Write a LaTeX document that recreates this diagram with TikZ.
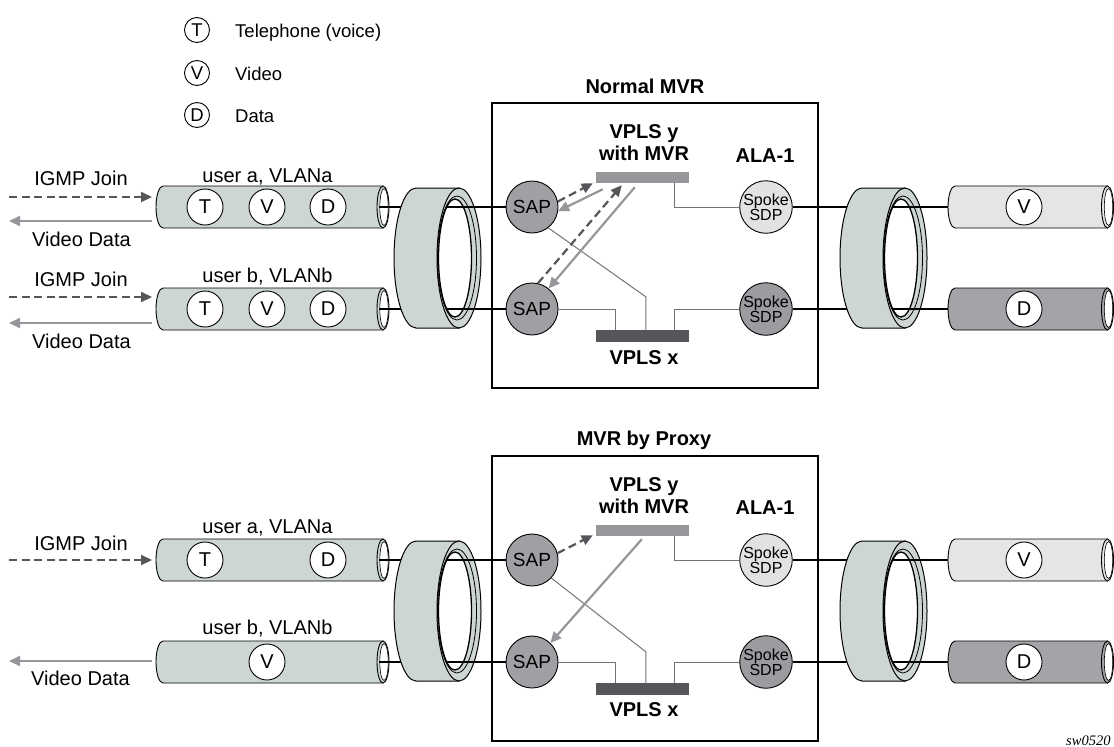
\documentclass[tikz,border=0pt]{standalone}
\usepackage{fontspec}
\setmainfont{Liberation Sans}
\newfontfamily\swfont{Liberation Serif}
\usetikzlibrary{arrows.meta,calc}
\definecolor{tubegray}{RGB}{206,213,213}
\definecolor{ringgray}{RGB}{206,213,213}
\definecolor{lighttube}{RGB}{229,229,229}
\definecolor{darktube}{RGB}{164,164,168}
\definecolor{sapgray}{RGB}{160,160,164}
\definecolor{spokelight}{RGB}{226,226,226}
\definecolor{spokedark}{RGB}{155,155,160}
\definecolor{barygray}{RGB}{150,150,155}
\definecolor{barxgray}{RGB}{85,85,90}
\definecolor{thingray}{RGB}{115,115,120}
\definecolor{dasharrc}{RGB}{85,85,90}
\definecolor{grayarrc}{RGB}{150,150,155}
\newcommand{\mytube}[4]{%
  \draw[line width=0.9pt, fill=#4] (#2,#3-21) -- (#1,#3-21) arc[start angle=270, end angle=90, x radius=7, y radius=21] -- (#2,#3+21) -- cycle;
  \draw[line width=0.9pt, fill=#4] (#2,#3) ellipse[x radius=6, y radius=21];
  \draw[line width=0.6pt, fill=white] (#2+1,#3) ellipse[x radius=4.2, y radius=18.5];
}
\newcommand{\myring}[2]{%
  \draw[line width=1pt, fill=ringgray] (#1+43,#2-70) -- (#1,#2-70) arc[start angle=270, end angle=90, x radius=22, y radius=70] -- (#1+43,#2+70) -- cycle;
  \draw[line width=1pt, fill=ringgray] (#1+43,#2) ellipse[x radius=22, y radius=70];
  \draw[line width=0.8pt, fill=ringgray] (#1+41,#2) ellipse[x radius=19.5, y radius=62];
  \draw[line width=1.3pt, fill=white] (#1+39,#2) ellipse[x radius=16.5, y radius=59];
}
\begin{document}
\begin{tikzpicture}[x=1pt,y=-1pt,
  lbl/.style={font=\fontsize{20}{22}\selectfont, inner sep=0, anchor=base},
  blbl/.style={font=\fontsize{20}{22}\selectfont\bfseries, inner sep=0, anchor=base},
  leglbl/.style={font=\fontsize{18.5}{20}\selectfont, inner sep=0, anchor=base west},
  legc/.style={circle, draw, line width=0.9pt, minimum size=25pt, inner sep=0, font=\fontsize{18.5}{20}\selectfont},
  svc/.style={circle, draw, line width=0.9pt, fill=white, minimum size=36pt, inner sep=0, font=\fontsize{20}{22}\selectfont},
  sap/.style={circle, draw, line width=0.9pt, fill=sapgray, minimum size=52pt, inner sep=0, font=\fontsize{19}{20}\selectfont},
  spoke/.style={circle, draw, line width=0.9pt, minimum size=52pt, inner sep=0, align=center, font=\fontsize{16}{15}\selectfont},
  bar/.style={rectangle, minimum width=93pt, inner sep=0},
  frame/.style={rectangle, draw, line width=1.8pt, minimum width=326pt, minimum height=285pt, inner sep=0},
  blk/.style={line width=1.8pt},
  thinc/.style={draw=thingray, line width=1pt},
  dasharr/.style={draw=dasharrc, line width=2.2pt, dash pattern=on 8pt off 4.5pt, -{Triangle[length=11pt,width=10pt,fill=dasharrc]}},
  grayarr/.style={draw=grayarrc, line width=2.2pt, -{Triangle[length=11pt,width=10pt,fill=grayarrc]}}
]
\useasboundingbox (0,0) rectangle (1114,747);

% legend
\node[legc] (lt) at (197,30) {T};
\node[legc] (lv) at (197,73) {V};
\node[legc] (ld) at (197,115) {D};
\node[leglbl] (ltt) at (235,37) {Telephone (voice)};
\node[leglbl] (lvt) at (235,80) {Video};
\node[leglbl] (ldt) at (235,122) {Data};

% frames
\node[frame] (boxa) at (655,245.5) {};
\node[frame] (boxb) at (655,598.5) {};
\node[blbl] (ta) at (645,93) {Normal MVR};
\node[blbl] (tb) at (644,445) {MVR by Proxy};

% ================= TOP =================
\node[sap] (sapa) at (532,207) {SAP};
\node[sap] (sapb) at (532,309) {SAP};
\node[spoke, fill=spokelight] (spka) at (766,207) {Spoke\\SDP};
\node[spoke, fill=spokedark] (spkb) at (766,309) {Spoke\\SDP};
\node[bar, fill=barygray, minimum height=11pt] (vya) at (642.5,177.5) {};
\node[bar, fill=barxgray, minimum height=12pt] (vxa) at (642.5,336) {};
\node[blbl] (vyat) at (644,138.5) {VPLS y};
\node[blbl] (vyat2) at (644,160) {with MVR};
\node[blbl] (vxat) at (644,364) {VPLS x};
\node[blbl] (alaa) at (765,162) {ALA-1};

% tubes
\mytube{163}{383}{207}{tubegray}
\mytube{163}{383}{309}{tubegray}
\mytube{955}{1107.5}{207}{lighttube}
\mytube{955}{1107.5}{309}{darktube}
\node[svc] (ta1) at (205,207) {T};
\node[svc] (va1) at (267,207) {V};
\node[svc] (da1) at (328,207) {D};
\node[svc] (tb1) at (205,309) {T};
\node[svc] (vb1) at (267,309) {V};
\node[svc] (db1) at (328,309) {D};
\node[svc] (rva) at (1024,207) {V};
\node[svc] (rda) at (1024,309) {D};
\node[lbl] (ua) at (267.5,182) {user a, VLANa};
\node[lbl] (ub) at (267.5,282) {user b, VLANb};

\coordinate (ea1) at (379,207);
\coordinate (ea2) at (379,309);
\coordinate (ra1) at (948,207);
\coordinate (ra2) at (948,309);
\coordinate (ia1) at (447,207);
\coordinate (ia2) at (447,309);
\coordinate (ja1) at (893,207);
\coordinate (ja2) at (893,309);
\draw[blk] (ea1) -- (sapa.west);
\draw[blk] (ea2) -- (sapb.west);
\draw[blk] (spka.east) -- (ra1);
\draw[blk] (spkb.east) -- (ra2);
\myring{416}{258}
\myring{862}{258}
\draw[blk] (ia1) -- (sapa.west);
\draw[blk] (ia2) -- (sapb.west);
\draw[blk] (ja1) -- (ra1);
\draw[blk] (ja2) -- (ra2);

% internal connectors
\draw[thinc] ($(vya.south west)+(79,0)$) |- (spka.west);
\draw[thinc] (sapb.east) -| ($(vxa.north west)+(20,0)$);
\draw[thinc] (spkb.west) -| ($(vxa.north west)+(79,0)$);
\draw[thinc] (sapa.-52) -- ($(vxa.north west)+(50,-33)$) -- ($(vxa.north west)+(50,0)$);

% arrows inside
\draw[dasharr] (sapa.12) -- ($(vya.south west)+(-3,0)$);
\draw[grayarr] ($(vya.south west)+(7,6)$) -- (sapa.-9);
\draw[dasharr] (sapb.77) -- ($(vya.south west)+(26,2)$);
\draw[grayarr] ($(vya.south west)+(39,4)$) -- (sapb.51);

% left arrows
\coordinate (la1s) at (9,197);   \coordinate (la1e) at (152,197);
\coordinate (la2s) at (152,221); \coordinate (la2e) at (9,221);
\coordinate (la3s) at (9,297);   \coordinate (la3e) at (152,297);
\coordinate (la4s) at (152,323); \coordinate (la4e) at (9,323);
\draw[dasharr] (la1s) -- (la1e);
\draw[grayarr] (la2s) -- (la2e);
\draw[dasharr] (la3s) -- (la3e);
\draw[grayarr] (la4s) -- (la4e);
\node[lbl] (ij1) at (81,185) {IGMP Join};
\node[lbl] (vd1) at (81.5,246) {Video Data};
\node[lbl] (ij2) at (81,286) {IGMP Join};
\node[lbl] (vd2) at (81.5,348) {Video Data};

% ================= BOTTOM =================
\node[sap] (sapc) at (532,560) {SAP};
\node[sap] (sapd) at (532,662) {SAP};
\node[spoke, fill=spokelight] (spkc) at (766,560) {Spoke\\SDP};
\node[spoke, fill=spokedark] (spkd) at (766,662) {Spoke\\SDP};
\node[bar, fill=barygray, minimum height=11pt] (vyb) at (642.5,530.5) {};
\node[bar, fill=barxgray, minimum height=12pt] (vxb) at (642.5,689) {};
\node[blbl] (vybt) at (644,491.5) {VPLS y};
\node[blbl] (vybt2) at (644,513) {with MVR};
\node[blbl] (vxbt) at (644,716) {VPLS x};
\node[blbl] (alab) at (765,514) {ALA-1};

\mytube{163}{383}{560}{tubegray}
\mytube{163}{383}{662}{tubegray}
\mytube{955}{1107.5}{560}{lighttube}
\mytube{955}{1107.5}{662}{darktube}
\node[svc] (tc1) at (205,560) {T};
\node[svc] (dc1) at (328,560) {D};
\node[svc] (vd1c) at (267,662) {V};
\node[svc] (rvb) at (1024,560) {V};
\node[svc] (rdb) at (1024,662) {D};
\node[lbl] (uc) at (267.5,533) {user a, VLANa};
\node[lbl] (ud) at (267.5,634) {user b, VLANb};

\coordinate (eb1) at (379,560);
\coordinate (eb2) at (379,662);
\coordinate (rb1) at (948,560);
\coordinate (rb2) at (948,662);
\coordinate (ib1) at (447,560);
\coordinate (ib2) at (447,662);
\coordinate (jb1) at (893,560);
\coordinate (jb2) at (893,662);
\draw[blk] (eb1) -- (sapc.west);
\draw[blk] (eb2) -- (sapd.west);
\draw[blk] (spkc.east) -- (rb1);
\draw[blk] (spkd.east) -- (rb2);
\myring{416}{611}
\myring{862}{611}
\draw[blk] (ib1) -- (sapc.west);
\draw[blk] (ib2) -- (sapd.west);
\draw[blk] (jb1) -- (rb1);
\draw[blk] (jb2) -- (rb2);

\draw[thinc] ($(vyb.south west)+(79,0)$) |- (spkc.west);
\draw[thinc] (sapd.east) -| ($(vxb.north west)+(20,0)$);
\draw[thinc] (spkd.west) -| ($(vxb.north west)+(79,0)$);
\draw[thinc] (sapc.-43) -- ($(vxb.north west)+(50,-31)$) -- ($(vxb.north west)+(50,0)$);

\draw[dasharr] (sapc.15) -- ($(vyb.south west)+(-3,-1)$);
\draw[grayarr] ($(vyb.south west)+(46,3)$) -- (sapd.46);

\coordinate (lb1s) at (9,560);   \coordinate (lb1e) at (152,560);
\coordinate (lb2s) at (152,661);   \coordinate (lb2e) at (9,661);
\draw[dasharr] (lb1s) -- (lb1e);
\draw[grayarr] (lb2s) -- (lb2e);
\node[lbl] (ij3) at (81,550) {IGMP Join};
\node[lbl] (vd3) at (80.5,685) {Video Data};

\node[anchor=base west, inner sep=0, font={\swfont\itshape\fontsize{14.5}{16}\selectfont}] (sw) at (1066,745) {sw0520};
\end{tikzpicture}
\end{document}
